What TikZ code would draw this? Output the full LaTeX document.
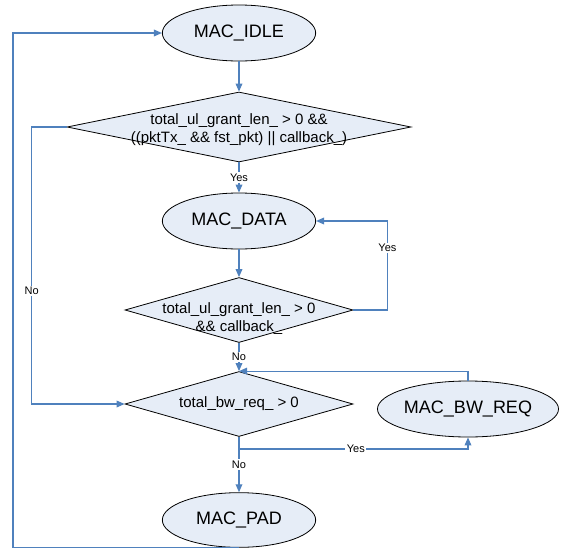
\documentclass[tikz,border=0pt]{standalone}
\usepackage{fontspec}
\setmainfont{Liberation Sans}
\usetikzlibrary{shapes.geometric,arrows.meta}
\definecolor{flowblue}{RGB}{79,129,189}
\definecolor{statefill}{RGB}{230,237,247}

\begin{document}
\begin{tikzpicture}[x=0.75pt,y=-0.75pt,
    state/.style={ellipse,draw=black,fill=statefill,line width=0.6pt,inner sep=0pt,
        minimum width=115pt,minimum height=42pt,font=\fontsize{13.5}{16}\selectfont},
    decision/.style={diamond,draw=black,fill=statefill,line width=0.6pt,inner sep=0pt},
    dtext/.style={align=center,font=\fontsize{11.25}{13}\selectfont},
    flow/.style={draw=flowblue,line width=0.9pt,-{Triangle[length=6pt,width=5pt]}},
    tag/.style={fill=white,inner sep=1pt,font=\fontsize{8.25}{10}\selectfont}]
    \useasboundingbox (0,0) rectangle (561,550);

    % States and decisions
    \node[state] (idle) at (239,33) {MAC\_IDLE};
    \node[decision,minimum width=258pt,minimum height=52.5pt,
        label={[dtext,yshift=-2pt]center:{total\_ul\_grant\_len\_ > 0 \&\&\\((pktTx\_ \&\& fst\_pkt) || callback\_)}}]
        (cond1) at (239,127) {};
    \node[state] (data) at (239,221) {MAC\_DATA};
    \node[decision,minimum width=171pt,minimum height=48.75pt,
        label={[dtext,yshift=-6.5pt]center:{total\_ul\_grant\_len\_ > 0\\\&\& callback\_}}]
        (cond2) at (239,310) {};
    \node[decision,minimum width=171pt,minimum height=48.75pt,
        label={[dtext]center:{total\_bw\_req\_ > 0}}]
        (cond3) at (239,404) {};
    \node[state,minimum width=129pt] (bwreq) at (468,409) {MAC\_BW\_REQ};
    \node[state,minimum height=41pt] (pad) at (239,520) {MAC\_PAD};

    % Main column
    \draw[flow] (idle) -- (cond1);
    \draw[flow] (cond1) -- node[tag] {Yes} (data);
    \draw[flow] (data) -- (cond2);
    \draw[flow] (cond2) -- node[tag] {No} (cond3);
    \draw[flow] (cond3) -- node[tag,pos=0.5] {No} (pad);

    % Loops
    \draw[flow] (cond2.east) -- ++(34,0) |- node[tag,pos=0.35] {Yes} (data.east);
    \draw[flow] (cond3.south) -- ++(0,12) -| node[tag,pos=0.255] {Yes} (bwreq.south);
    \draw[flow] (bwreq.north) |- (cond3.north);
    \draw[flow] (cond1.west) -- ++(-35,0) |- node[tag,pos=0.296] {No} (cond3.west);
    \draw[flow] (pad.south) -- ++(-226,0) |- (idle.west);
\end{tikzpicture}
\end{document}
